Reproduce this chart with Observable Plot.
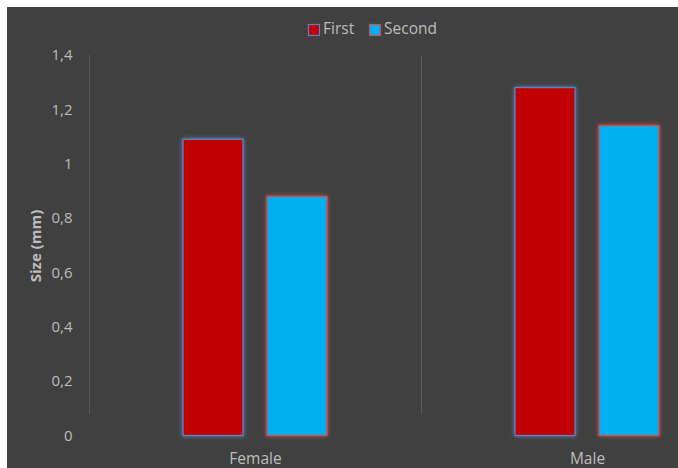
<!DOCTYPE html>
<html>
<head>
<meta charset="utf-8">
<script src="https://cdn.jsdelivr.net/npm/d3@7"></script>
<script src="https://cdn.jsdelivr.net/npm/@observablehq/plot@0.6"></script>
<style>
  html, body { margin: 0; padding: 0; background: #ffffff; }
  #chart svg { display: block; }
</style>
</head>
<body>
<div id="chart"></div>
<script>
// Mean size per sex, measured twice
const categories = ["Female", "Male"];
const seriesNames = ["First", "Second"];
const firstValues = [1.09, 1.28];
const secondValues = [0.88, 1.14];
const yTicks = [0, 0.2, 0.4, 0.6, 0.8, 1, 1.2, 1.4];

const colors = { First: "#c00000", Second: "#00b0f0" };
const outlines = { First: "#5b87c8", Second: "#d0504c" };

const firstRows = categories.map((c, i) => ({ sex: c, value: firstValues[i] }));
const secondRows = categories.map((c, i) => ({ sex: c, value: secondValues[i] }));

const W = 678, H = 468;
const font = "'Open Sans', 'Noto Sans', sans-serif";

const chart = Plot.plot({
  width: W,
  height: H,
  marginLeft: 89,
  marginTop: 55,
  marginBottom: 32.5,
  marginRight: 0,
  style: { background: "transparent", color: "#bdbdbd", fontFamily: font, fontSize: "15px" },
  x: { domain: categories, range: [89, 753], padding: 0, label: null },
  y: { domain: [0, 1.4], range: [435.5, 55], label: null },
  marks: [
    // category separators
    Plot.barY(categories, { x: d => d, y1: 0.08, y2: 1.4, insetRight: 331, fill: "#5a5a5a" }),
    Plot.barY(firstRows, {
      x: "sex", y: "value", insetLeft: 94, insetRight: 178,
      fill: colors.First, stroke: outlines.First, strokeWidth: 1.2,
      imageFilter: `drop-shadow(0 0 2px ${outlines.First})`
    }),
    Plot.barY(secondRows, {
      x: "sex", y: "value", insetLeft: 178, insetRight: 94,
      fill: colors.Second, stroke: outlines.Second, strokeWidth: 1.2,
      imageFilter: `drop-shadow(0 0 2px ${outlines.Second})`
    }),
    Plot.axisY(yTicks, {
      tickSize: 0, tickPadding: 17, label: null,
      tickFormat: d => String(d).replace(".", ","), fontSize: 15
    }),
    Plot.axisX({ tickSize: 0, tickPadding: 17, label: null, fontSize: 15.5 })
  ]
});

const svg = d3.select(chart);
// dark chart area
svg.insert("rect", ":first-child")
  .attr("x", 7).attr("y", 7).attr("width", W - 7).attr("height", H - 7)
  .attr("fill", "#404040");

// axis title
svg.append("text")
  .attr("transform", "translate(37,246) rotate(-90)")
  .attr("text-anchor", "middle")
  .attr("dominant-baseline", "middle")
  .attr("font-family", font).attr("font-size", 15).attr("font-weight", "bold")
  .attr("fill", "#bdbdbd")
  .text("Size (mm)");

// legend
const legend = svg.append("g")
  .attr("font-family", font).attr("font-size", 15.5).attr("fill", "#bdbdbd")
  .attr("text-anchor", "start");
const legendX = { First: 308, Second: 369 };
seriesNames.forEach(name => {
  const x0 = legendX[name];
  legend.append("rect")
    .attr("x", x0 + 0.5).attr("y", 24.5).attr("width", 11).attr("height", 11)
    .attr("fill", colors[name]).attr("stroke", outlines[name]).attr("stroke-width", 1.2);
  legend.append("text")
    .attr("x", x0 + 15).attr("y", 30)
    .attr("text-anchor", "start")
    .attr("dominant-baseline", "middle")
    .text(name);
});

document.getElementById("chart").appendChild(chart);
</script>
</body>
</html>
